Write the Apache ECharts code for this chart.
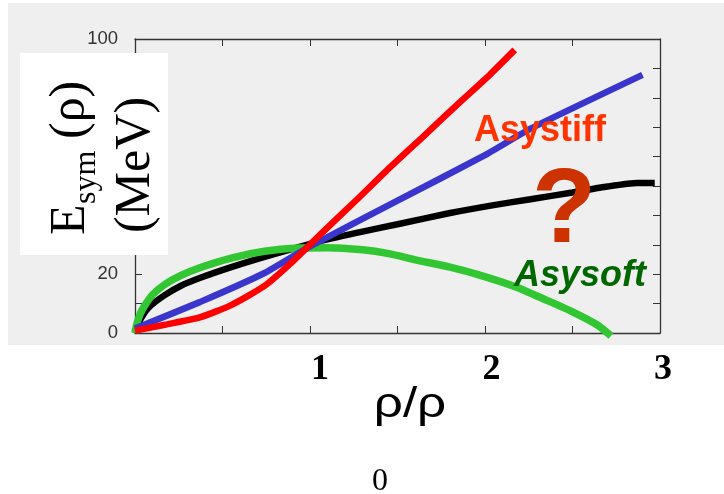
<!DOCTYPE html>
<html>
<head>
<meta charset="utf-8">
<script src="https://cdn.jsdelivr.net/npm/echarts@6/dist/echarts.min.js"></script>
<style>html,body{margin:0;padding:0;background:#fff;}#c{width:724px;height:494px;}</style>
</head>
<body>
<div id="c"></div>
<script>
// ---- data ----
const xTickLabels = ['', '1', '2', '3'];
const yTickLabels = ['0', '20', '40', '60', '80', '100'];

const blackX = [0, 0.03, 0.08, 0.17, 0.26, 0.37, 0.55, 0.74, 0.94, 1.08, 1.3, 1.5, 1.8, 2.05, 2.26, 2.5, 2.7, 2.87, 2.97];
const blackY = [0, 4.5, 8.8, 12.9, 16, 18.7, 22.4, 25.9, 29.3, 31.6, 34.5, 37, 40.8, 43.5, 45.5, 47.8, 49.8, 51, 51];

const greenX = [0, 0.01, 0.03, 0.05, 0.1, 0.17, 0.26, 0.37, 0.55, 0.74, 0.94, 1.1, 1.3, 1.45, 1.61, 1.8, 1.97, 2.18, 2.35, 2.5, 2.64, 2.72];
const greenY = [0, 3, 6.5, 8.8, 13, 16.5, 19.5, 22.2, 25.5, 27.8, 28.9, 29, 28.3, 27, 24.8, 22.4, 19.7, 15.6, 11.2, 7.2, 2.8, -1];

const blueX = [0, 0.37, 0.74, 1.0, 1.5, 2.0, 2.26, 2.9];
const blueY = [1.5, 10.5, 20.4, 29.5, 45, 60.5, 69.5, 87.8];

const redX = [0, 0.17, 0.37, 0.55, 0.74, 0.886, 1.076, 1.27, 1.46, 1.65, 1.84, 2.03, 2.17];
const redY = [0.8, 2.8, 5.3, 9.5, 16, 23.5, 34.5, 45.5, 56.5, 67, 77.6, 88, 96.3];

function pairs(xs, ys) { return xs.map((x, i) => [x, ys[i]]); }

const chart = echarts.init(document.getElementById('c'), null, {renderer: 'canvas'});
const frame = () => ({show: true, onZero: false, lineStyle: {color: '#333', width: 1.3}});
const tick = () => ({show: true, inside: true, length: 7, lineStyle: {color: '#333', width: 1}});
const minor = () => ({show: true, splitNumber: 2, length: 7, lineStyle: {color: '#333', width: 1}});

const option = {
  backgroundColor: '#ffffff',
  animation: false,
  grid: [
    {left: 135, right: 64, top: 39, bottom: 161},
    {left: 148.5, right: 61, top: 39, bottom: 161}
  ],
  xAxis: [
    {gridIndex: 0, type: 'value', min: 0, max: 3, interval: 0.5, position: 'bottom',
     axisLine: frame(), axisTick: tick(), axisLabel: {show: false}, splitLine: {show: false}},
    {gridIndex: 0, type: 'value', min: 0, max: 3, interval: 0.5, position: 'top',
     axisLine: frame(), axisTick: tick(), axisLabel: {show: false}, splitLine: {show: false}},
    {gridIndex: 1, type: 'value', min: 0, max: 3, interval: 1, position: 'bottom',
     axisLine: {show: false, onZero: false}, axisTick: {show: false}, splitLine: {show: false},
     axisLabel: {formatter: v => xTickLabels[Math.round(v)] || '', fontFamily: 'Liberation Serif',
       fontWeight: 'bold', fontSize: 36, color: '#000', margin: 19}}
  ],
  yAxis: [
    {gridIndex: 0, type: 'value', min: 0, max: 100, interval: 20, position: 'left',
     axisLine: frame(), axisTick: tick(), minorTick: minor(), splitLine: {show: false}, minorSplitLine: {show: false},
     axisLabel: {formatter: v => yTickLabels[Math.round(v / 20)], fontFamily: 'Liberation Sans',
       fontSize: 18.5, color: '#333', margin: 17}},
    {gridIndex: 0, type: 'value', min: 0, max: 100, interval: 20, position: 'right',
     axisLine: frame(), axisTick: tick(), minorTick: minor(), splitLine: {show: false}, axisLabel: {show: false}},
    {gridIndex: 1, type: 'value', min: 0, max: 100, show: false}
  ],
  series: [
    {type: 'line', xAxisIndex: 0, yAxisIndex: 0, data: pairs(blackX, blackY), showSymbol: false, smooth: 0.2,
     clip: false, lineStyle: {color: '#000', width: 6.5}, z: 2},
    {type: 'line', xAxisIndex: 0, yAxisIndex: 0, data: pairs(greenX, greenY), showSymbol: false, smooth: 0.2,
     clip: false, lineStyle: {color: '#33c633', width: 7.5}, z: 3},
    {type: 'line', xAxisIndex: 0, yAxisIndex: 0, data: pairs(blueX, blueY), showSymbol: false, smooth: 0.15,
     clip: false, lineStyle: {color: '#3a35cc', width: 6.5}, z: 4},
    {type: 'line', xAxisIndex: 0, yAxisIndex: 0, data: pairs(redX, redY), showSymbol: false, smooth: 0.2,
     clip: false, lineStyle: {color: '#ff0000', width: 6.5}, z: 5}
  ],
  graphic: {
    elements: [
      {type: 'rect', z: -100, silent: true, shape: {x: 8, y: 3, width: 716, height: 342}, style: {fill: '#efefef'}},
      {type: 'rect', z: 100, silent: true, shape: {x: 20, y: 53, width: 148, height: 202}, style: {fill: '#ffffff'}},
      {type: 'text', z: 101, x: 71, y: 235, rotation: Math.PI / 2,
       style: {text: 'E', fontFamily: 'Liberation Serif', fontSize: 50, fill: '#000', align: 'left', verticalAlign: 'middle'}},
      {type: 'text', z: 101, x: 87, y: 204, rotation: Math.PI / 2,
       style: {text: 'sym', fontFamily: 'Liberation Serif', fontSize: 32, fill: '#000', align: 'left', verticalAlign: 'middle'}},
      {type: 'text', z: 101, x: 71, y: 139, rotation: Math.PI / 2,
       style: {text: '(ρ)', fontFamily: 'Liberation Serif', fontSize: 50, fill: '#000', align: 'left', verticalAlign: 'middle'}},
      {type: 'text', z: 101, x: 136, y: 165, rotation: Math.PI / 2,
       style: {text: '(MeV)', fontFamily: 'Liberation Serif', fontSize: 50, fill: '#000', align: 'center', verticalAlign: 'middle'}},
      {type: 'text', z: 101, x: 540, y: 131,
       style: {text: 'Asystiff', fontFamily: 'Liberation Sans', fontWeight: 'bold', fontSize: 36, fill: '#ff3300', align: 'center', verticalAlign: 'middle'}},
      {type: 'text', z: 101, x: 580, y: 276,
       style: {text: 'Asysoft', fontFamily: 'Liberation Sans', fontWeight: 'bold', fontStyle: 'italic', fontSize: 36, fill: '#006600', align: 'center', verticalAlign: 'middle'}},
      {type: 'text', z: 101, x: 564, y: 213,
       style: {text: '?', fontFamily: 'Liberation Sans', fontWeight: 'bold', fontSize: 105, fill: '#cc3300', align: 'center', verticalAlign: 'middle'}},
      {type: 'text', z: 101, x: 410, y: 405, scaleX: 1.22,
       style: {text: 'ρ/ρ', fontFamily: 'Liberation Sans', fontSize: 42, fill: '#000', align: 'center', verticalAlign: 'middle'}},
      {type: 'text', z: 101, x: 380, y: 482,
       style: {text: '0', fontFamily: 'Liberation Serif', fontSize: 32, fill: '#000', align: 'center', verticalAlign: 'middle'}}
    ]
  }
};
chart.setOption(option);
</script>
</body>
</html>
